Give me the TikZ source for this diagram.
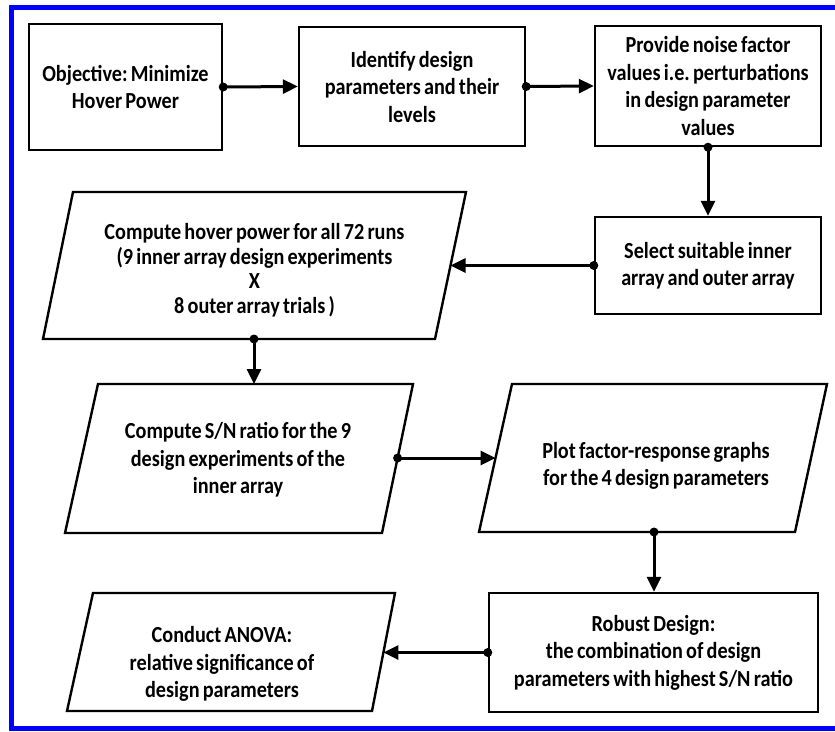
\documentclass[tikz,border=0pt]{standalone}
\usepackage{fontspec}
\setmainfont{Carlito}[FakeStretch=0.88, WordSpace=0.7]
\usetikzlibrary{arrows.meta}
\frenchspacing
\begin{document}
\begin{tikzpicture}[x=1pt,y=-1pt,
  txt/.style={align=center, inner sep=0pt, font=\bfseries\fontsize{23}{27.5}\selectfont},
  boxnode/.style={txt, draw=black, line width=2.4pt, fill=white},
  para/.style={draw=black, line width=2.4pt, fill=white, line join=miter},
  conn/.style={line width=3pt, -{Triangle[length=15pt,width=14pt]}},
  dot/.style={fill=black}
]
\useasboundingbox (0,0) rectangle (835,731);
\fill[white] (0,0) rectangle (835,731);
% blue frame (open on the right, cut by the picture edge)
\draw[line width=5pt, draw={rgb,255:red,0;green,0;blue,255}] (835,7.5) -- (11.5,7.5) -- (11.5,728.5) -- (835,728.5);

% rectangles
\node[boxnode, minimum width=193pt, minimum height=126pt] (b1) at (125.5,87) {Objective: Minimize\\Hover Power};
\node[boxnode, minimum width=226pt, minimum height=119pt] (b2) at (412,86.5) {Identify design\\parameters and their\\levels};
\node[boxnode, minimum width=226pt, minimum height=120pt] (b3) at (708,86) {Provide noise factor\\values i.e. perturbations\\in design parameter\\values};
\node[boxnode, minimum width=226pt, minimum height=97pt] (b4) at (708,265.5) {Select suitable inner\\array and outer array};
\node[boxnode, minimum width=329pt, minimum height=119pt] (b5) at (653.5,652.5) {Robust Design:\\the combination of design\\parameters with highest S/N ratio};

% parallelograms
\draw[para] (73,192) -- (466,192) -- (435,339) -- (43,339) -- cycle;
\node[txt, font=\bfseries\fontsize{23}{24.5}\selectfont] (p1) at (254.5,270) {Compute hover power for all 72 runs\\(9 inner array design experiments\\X\\8 outer array trials )};
\draw[para] (98,384) -- (413,384) -- (382,533) -- (65,533) -- cycle;
\node[txt] (p2) at (238,460) {Compute S/N ratio for the 9\\design experiments of the\\inner array};
\draw[para] (512,384) -- (827,384) -- (795,532) -- (479,532) -- cycle;
\node[txt] (p3) at (656,466) {Plot factor-response graphs\\for the 4 design parameters};
\draw[para] (93,593) -- (395,593) -- (372,711) -- (67,711) -- cycle;
\node[txt] (p4) at (222,664) {Conduct ANOVA:\\relative significance of\\design parameters};

% connector end points on the parallelograms
\coordinate (p1e) at (450.5,265.5);
\coordinate (p1s) at (254,339);
\coordinate (p2n) at (254,384);
\coordinate (p2e) at (397.6,458);
\coordinate (p3w) at (495.5,458);
\coordinate (p3s) at (654,532);
\coordinate (p4e) at (383.4,652.5);

% connectors
\draw[conn] (b1.east) -- (b2.west);
\draw[conn] (b2.east) -- (b3.west);
\draw[conn] (b3.south) -- (b3.south |- b4.north);
\draw[conn] (b4.west) -- (p1e);
\draw[conn] (p1s) -- (p2n);
\draw[conn] (p2e) -- (p3w);
\draw[conn] (p3s) -- (p3s |- b5.north);
\draw[conn] (b5.west) -- (p4e);

% start dots
\foreach \p in {b1.east, b2.east, b3.south, b4.west, p1s, p2e, p3s, b5.west}
  \fill[dot] (\p) circle (4.5pt);
\end{tikzpicture}
\end{document}
